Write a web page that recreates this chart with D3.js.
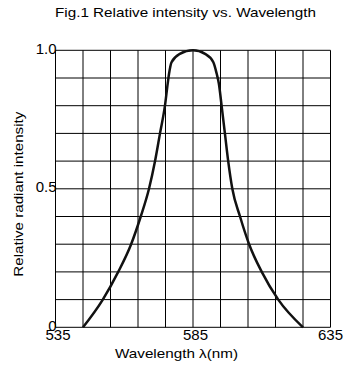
<!DOCTYPE html>
<html>
<head>
<meta charset="utf-8">
<style>
  body { margin: 0; background: #fff; }
  svg text { font-family: "Liberation Sans", Arial, sans-serif; fill: #000; }
</style>
</head>
<body>
<div id="chart"></div>
<script src="https://cdn.jsdelivr.net/npm/d3@7"></script>
<script>
// curve: wavelength (nm) and relative intensity
var wavelength = [545, 552.2, 557.8, 562.5, 566, 569, 571.2, 573, 574.8, 575.8, 576.3, 577.2, 580.2, 585,
                  589.4, 592.4, 593.6, 594.4, 595.4, 596.6, 597.8, 599.3, 602.1, 605.4, 610, 616, 625];
var intensity  = [0, 0.1, 0.2, 0.3, 0.4, 0.5, 0.6, 0.7, 0.8, 0.88, 0.916, 0.957, 0.987, 1.0,
                  0.987, 0.957, 0.916, 0.88, 0.8, 0.7, 0.6, 0.5, 0.4, 0.3, 0.2, 0.1, 0];
var xTickLabels = [535, 585, 635];
var yTickLabels = [0, 0.5, 1.0];
var gridX = d3.range(535, 636, 10);
var gridY = d3.range(0, 1.01, 0.1);

var w = 344, h = 369;
// plot box in pixels
var pLeft = 55.5, pRight = 330.5, pTop = 50.3, pBottom = 327.3;

var x = d3.scaleLinear().domain([535, 635]).range([pLeft, pRight]);
var y = d3.scaleLinear().domain([0, 1]).range([pBottom, pTop]);

var svg = d3.select("#chart").append("svg")
  .attr("width", w)
  .attr("height", h);

// grid
svg.append("g").selectAll("line")
  .data(gridX)
  .enter().append("line")
  .attr("x1", function(d) { return x(d); })
  .attr("x2", function(d) { return x(d); })
  .attr("y1", y(0))
  .attr("y2", y(1))
  .attr("stroke", "#000")
  .attr("stroke-width", 1);

svg.append("g").selectAll("line")
  .data(gridY)
  .enter().append("line")
  .attr("x1", x(535))
  .attr("x2", x(635))
  .attr("y1", function(d) { return y(d); })
  .attr("y2", function(d) { return y(d); })
  .attr("stroke", "#000")
  .attr("stroke-width", 1);

// the spectrum
var pts = wavelength.map(function(d, i) { return [d, intensity[i]]; });
var line = d3.line()
  .x(function(d) { return x(d[0]); })
  .y(function(d) { return y(d[1]); })
  .curve(d3.curveMonotoneX);

svg.append("path")
  .datum(pts)
  .attr("fill", "none")
  .attr("stroke", "#111")
  .attr("stroke-width", 2.5)
  .attr("stroke-linejoin", "round")
  .attr("d", line);

// tick labels, last one pulled in so it stays inside the page
svg.append("g").selectAll("text")
  .data(xTickLabels)
  .enter().append("text")
  .attr("x", function(d) { return Math.min(x(d) + 2.5, pRight); })
  .attr("y", pBottom + 13)
  .attr("text-anchor", "middle")
  .style("font-size", "15px")
  .text(function(d) { return d; });

svg.append("g").selectAll("text")
  .data(yTickLabels)
  .enter().append("text")
  .attr("x", pLeft + 1)
  .attr("y", function(d) { return y(d) + 3.5; })
  .attr("text-anchor", "end")
  .style("font-size", "15px")
  .text(function(d) { return d === 0 ? "0" : d.toFixed(1); });

// titles (the original font runs wider than Liberation Sans, so stretch to fit)
svg.append("text")
  .attr("x", 55)
  .attr("y", 17.3)
  .attr("textLength", 261)
  .attr("lengthAdjust", "spacingAndGlyphs")
  .style("font-size", "13px")
  .text("Fig.1 Relative intensity vs. Wavelength");

svg.append("text")
  .attr("x", 115)
  .attr("y", 358)
  .attr("textLength", 123)
  .attr("lengthAdjust", "spacingAndGlyphs")
  .style("font-size", "13px")
  .text("Wavelength \u03bb(nm)");

svg.append("text")
  .attr("transform", "translate(22.5,276.7) rotate(-90)")
  .attr("textLength", 165)
  .attr("lengthAdjust", "spacingAndGlyphs")
  .style("font-size", "13px")
  .text("Relative radiant intensity");
</script>
</body>
</html>
